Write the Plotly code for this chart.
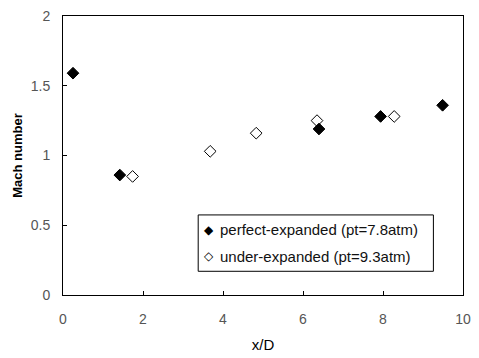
import plotly.graph_objects as go

perfect_x = [0.25, 1.42, 6.4, 7.94, 9.49]
perfect_y = [1.59, 0.86, 1.19, 1.28, 1.36]
under_x = [1.74, 3.68, 4.83, 6.35, 8.28]
under_y = [0.85, 1.03, 1.16, 1.25, 1.28]

perfect_name = "perfect-expanded (pt=7.8atm)"
under_name = "under-expanded (pt=9.3atm)"

x_ticks = [0, 2, 4, 6, 8, 10]
y_ticks = [0, 0.5, 1, 1.5, 2]
y_ticktext = ["0", "0.5", "1", "1.5", "2"]

fig = go.Figure()
fig.add_trace(go.Scatter(
    x=perfect_x, y=perfect_y, mode="markers", name=perfect_name, showlegend=False,
    marker=dict(symbol="diamond", size=9, color="black", line=dict(color="black", width=1)),
))
fig.add_trace(go.Scatter(
    x=under_x, y=under_y, mode="markers", name=under_name, showlegend=False,
    marker=dict(symbol="diamond-open", size=9, color="black", line=dict(color="black", width=1)),
))

# legend box drawn as shape + annotations
fig.add_shape(type="rect", xref="paper", yref="paper",
              x0=0.338, x1=0.926, y0=0.085, y1=0.287,
              line=dict(color="black", width=1), fillcolor="white", layer="above")
rows = [("\u25c6", perfect_name, 0.234), ("\u25c7", under_name, 0.138)]
for glyph, label, yy in rows:
    fig.add_annotation(xref="paper", yref="paper", x=0.365, y=yy, text=glyph,
                       showarrow=False, xanchor="center", yanchor="middle",
                       font=dict(family="DejaVu Sans", size=12, color="black"))
    fig.add_annotation(xref="paper", yref="paper", x=0.387, y=yy, text=label,
                       showarrow=False, xanchor="left", yanchor="middle",
                       font=dict(family="Liberation Sans, Arial, sans-serif", size=15, color="#111"))

fig.update_layout(
    width=479, height=358,
    margin=dict(l=63, r=8, t=14, b=62),
    paper_bgcolor="white", plot_bgcolor="white",
    font=dict(family="Liberation Sans, Arial, sans-serif", size=14, color="black"),
    showlegend=False,
)
fig.update_xaxes(
    range=[0, 10], tickvals=x_ticks, ticktext=[str(v) for v in x_ticks],
    showgrid=False, zeroline=False, showline=True, linecolor="black", linewidth=1,
    mirror=True, ticks="inside", ticklen=4, tickcolor="black",
    tickfont=dict(size=14, color="#555"), ticklabelstandoff=11,
    ticklabeloverflow="allow",
    title=dict(text="x/D", font=dict(size=15, color="black"), standoff=13),
)
fig.update_yaxes(
    range=[0, 2], tickvals=y_ticks, ticktext=y_ticktext,
    showgrid=False, zeroline=False, showline=True, linecolor="black", linewidth=1,
    mirror=True, ticks="inside", ticklen=4, tickcolor="black",
    tickfont=dict(size=14, color="#555"), ticklabelstandoff=9,
    title=dict(text="<b>Mach number</b>", font=dict(size=13, color="black"), standoff=5),
)

fig.write_html("out.html", config={"displayModeBar": False},
               post_script="document.body.style.margin='0';")
